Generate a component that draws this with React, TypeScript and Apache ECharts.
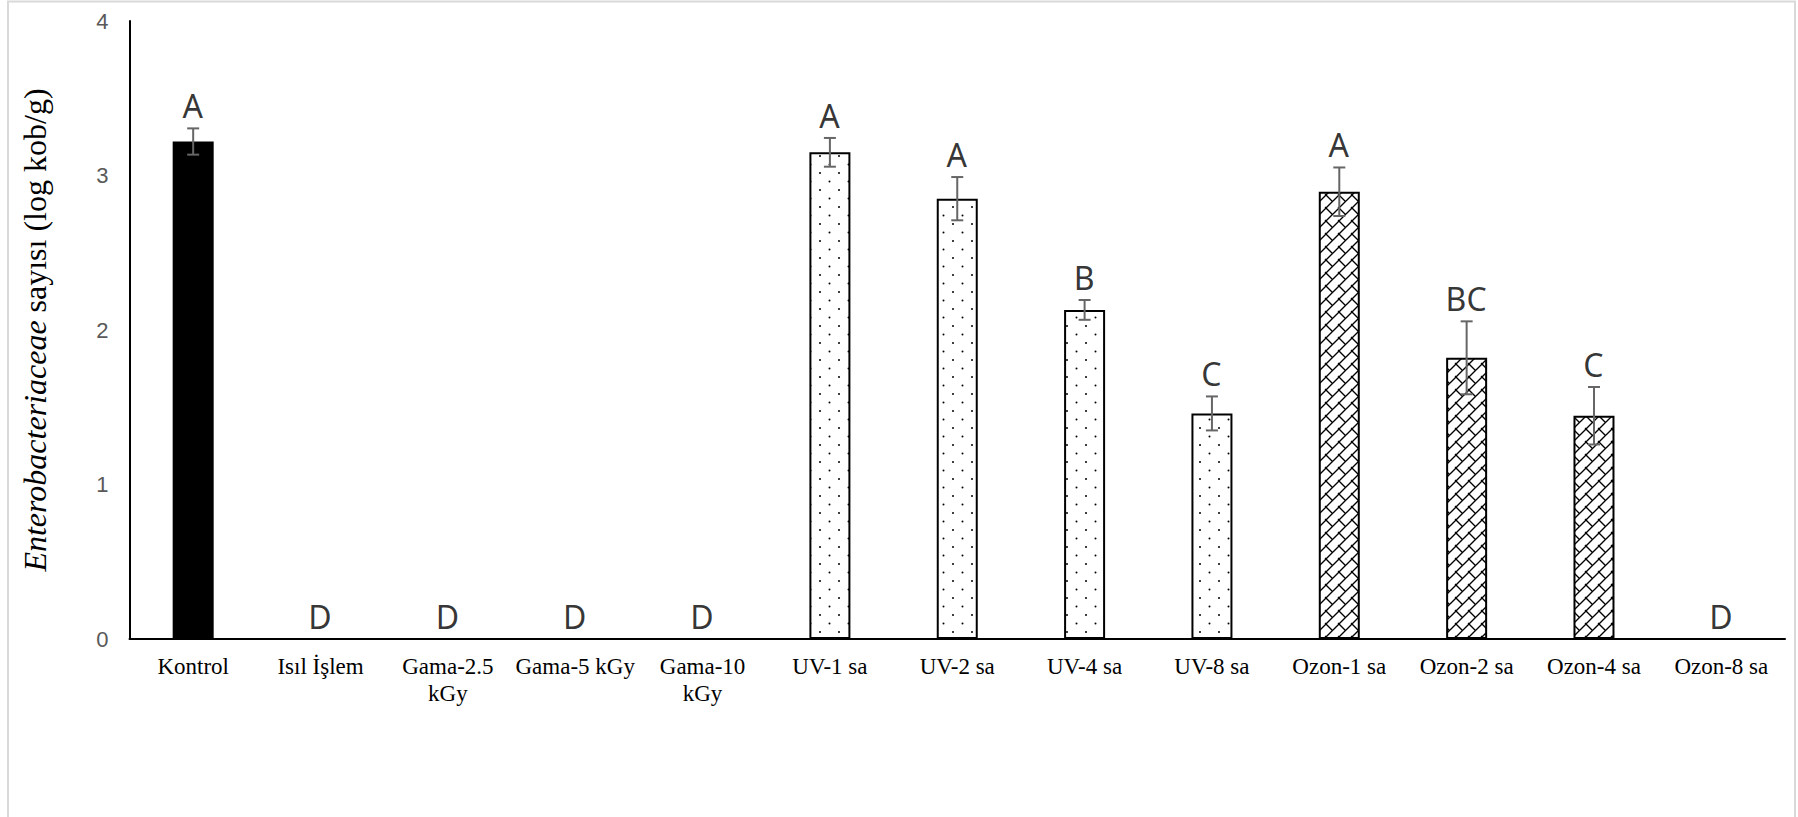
import React, { useEffect, useRef } from "react";
import * as echarts from "echarts";

const categories = [
  "Kontrol",
  "Isıl İşlem",
  "Gama-2.5 kGy",
  "Gama-5 kGy",
  "Gama-10 kGy",
  "UV-1 sa",
  "UV-2 sa",
  "UV-4 sa",
  "UV-8 sa",
  "Ozon-1 sa",
  "Ozon-2 sa",
  "Ozon-4 sa",
  "Ozon-8 sa",
];
const means = [3.22, 0, 0, 0, 0, 3.15, 2.85, 2.13, 1.46, 2.895, 1.82, 1.445, 0];
const errors = [0.085, 0, 0, 0, 0, 0.093, 0.14, 0.064, 0.11, 0.157, 0.236, 0.186, 0];
const letters = ["A", "D", "D", "D", "D", "A", "A", "B", "C", "A", "BC", "C", "D"];
const groups = [
  "control",
  "heat",
  "gamma",
  "gamma",
  "gamma",
  "uv",
  "uv",
  "uv",
  "uv",
  "ozone",
  "ozone",
  "ozone",
  "ozone",
];
const yTicks = [0, 1, 2, 3, 4];

const LABEL_FONT = '23px "Liberation Serif"';
const LABEL_MAX = 124;

function wrapLabel(text: string): string {
  const c = document.createElement("canvas");
  const ctx = c.getContext("2d")!;
  ctx.font = LABEL_FONT;
  if (ctx.measureText(text).width <= LABEL_MAX) return text;
  const idx = text.lastIndexOf(" ");
  if (idx < 0) return text;
  return text.slice(0, idx) + "\n" + text.slice(idx + 1);
}

function makeDots(): any {
  const c = document.createElement("canvas");
  c.width = 19;
  c.height = 17;
  const ctx = c.getContext("2d")!;
  ctx.fillStyle = "#ffffff";
  ctx.fillRect(0, 0, 19, 17);
  ctx.fillStyle = "#000000";
  ctx.beginPath();
  ctx.arc(3, 3, 1, 0, Math.PI * 2);
  ctx.fill();
  ctx.beginPath();
  ctx.arc(12.5, 11.5, 1, 0, Math.PI * 2);
  ctx.fill();
  return { image: c, repeat: "repeat", imageWidth: 19, imageHeight: 17 };
}

function makeBrick(): any {
  const s = 13;
  const c = document.createElement("canvas");
  c.width = s;
  c.height = s;
  const ctx = c.getContext("2d")!;
  ctx.fillStyle = "#ffffff";
  ctx.fillRect(0, 0, s, s);
  ctx.strokeStyle = "#000000";
  ctx.lineWidth = 1.3;
  ctx.beginPath();
  ctx.moveTo(-2, s + 2);
  ctx.lineTo(s + 2, -2);
  ctx.stroke();
  ctx.beginPath();
  ctx.moveTo(-1, -1);
  ctx.lineTo(s / 2, s / 2);
  ctx.stroke();
  ctx.beginPath();
  ctx.moveTo(s - 1, s - 1);
  ctx.lineTo(s + 1, s + 1);
  ctx.stroke();
  return { image: c, repeat: "repeat", imageWidth: s, imageHeight: s };
}

export default function App() {
  const ref = useRef<HTMLDivElement>(null);
  useEffect(() => {
    if (!ref.current) return;
    const chart = echarts.init(ref.current, null, { renderer: "svg" });
    const dots = makeDots();
    const brick = makeBrick();
    const fillFor = (g: string) =>
      g === "control" ? "#000000" : g === "uv" ? dots : g === "ozone" ? brick : "#ffffff";

    const option: any = {
      animation: false,
      backgroundColor: "#ffffff",
      grid: { left: 129.5, right: 13, top: 21, bottom: 178, containLabel: false },
      graphic: [
        {
          type: "rect",
          silent: true,
          shape: { x: 8, y: 1.5, width: 1787, height: 900 },
          style: { fill: "none", stroke: "#d9d9d9", lineWidth: 2 },
        },
      ],
      xAxis: {
        type: "category",
        data: categories,
        axisLine: { lineStyle: { color: "#000000", width: 2 } },
        axisTick: { show: false },
        axisLabel: {
          interval: 0,
          margin: 14,
          color: "#000000",
          fontFamily: "Liberation Serif",
          fontSize: 23,
          lineHeight: 27,
          formatter: (v: string) => wrapLabel(v),
        },
      },
      yAxis: {
        type: "value",
        min: yTicks[0],
        max: yTicks[yTicks.length - 1],
        interval: 1,
        splitLine: { show: false },
        axisTick: { show: false },
        axisLine: { show: true, lineStyle: { color: "#000000", width: 2 } },
        axisLabel: {
          margin: 21,
          color: "#595959",
          fontFamily: "Liberation Sans",
          fontSize: 22,
        },
        name: "{it|Enterobacteriaceae} sayısı (log kob/g)",
        nameLocation: "middle",
        nameRotate: 90,
        nameGap: 79,
        nameTextStyle: {
          color: "#000000",
          fontFamily: "Liberation Serif",
          fontSize: 32,
          rich: {
            it: {
              fontStyle: "italic",
              fontFamily: "Liberation Serif",
              fontSize: 32,
              color: "#000000",
            },
          },
        },
      },
      series: [
        {
          type: "bar",
          barWidth: 41,
          data: means.map((v, i) => ({
            value: v,
            itemStyle: {
              color: fillFor(groups[i]),
              borderColor: "#000000",
              borderWidth: v > 0 ? 2 : 0,
            },
          })),
        },
        {
          type: "custom",
          z: 10,
          renderItem: (params: any, api: any) => {
            const x = api.value(0);
            const lo = api.coord([x, api.value(1)]);
            const hi = api.coord([x, api.value(2)]);
            const w = 6;
            const st = { stroke: "#666666", lineWidth: 2 };
            return {
              type: "group",
              children: [
                { type: "line", shape: { x1: hi[0], y1: hi[1], x2: lo[0], y2: lo[1] }, style: st },
                { type: "line", shape: { x1: hi[0] - w, y1: hi[1], x2: hi[0] + w, y2: hi[1] }, style: st },
                { type: "line", shape: { x1: lo[0] - w, y1: lo[1], x2: lo[0] + w, y2: lo[1] }, style: st },
              ],
            };
          },
          data: means
            .map((v, i) => [i, v - errors[i], v + errors[i], errors[i]])
            .filter((d) => d[3] > 0),
        },
        {
          type: "scatter",
          symbolSize: 1,
          itemStyle: { color: "rgba(0,0,0,0)" },
          z: 11,
          data: means.map((v, i) => [i, v + errors[i]]),
          label: {
            show: true,
            position: [0, -22],
            align: "center",
            verticalAlign: "middle",
            formatter: (p: any) => letters[p.dataIndex],
            color: "#000000",
            fontFamily: "Noto Sans",
            fontSize: 32,
          },
        },
      ],
    };
    chart.setOption(option);
    return () => chart.dispose();
  }, []);
  return (
    <div
      ref={ref}
      style={{ position: "absolute", left: 0, top: 0, width: 1798, height: 817 }}
    />
  );
}
